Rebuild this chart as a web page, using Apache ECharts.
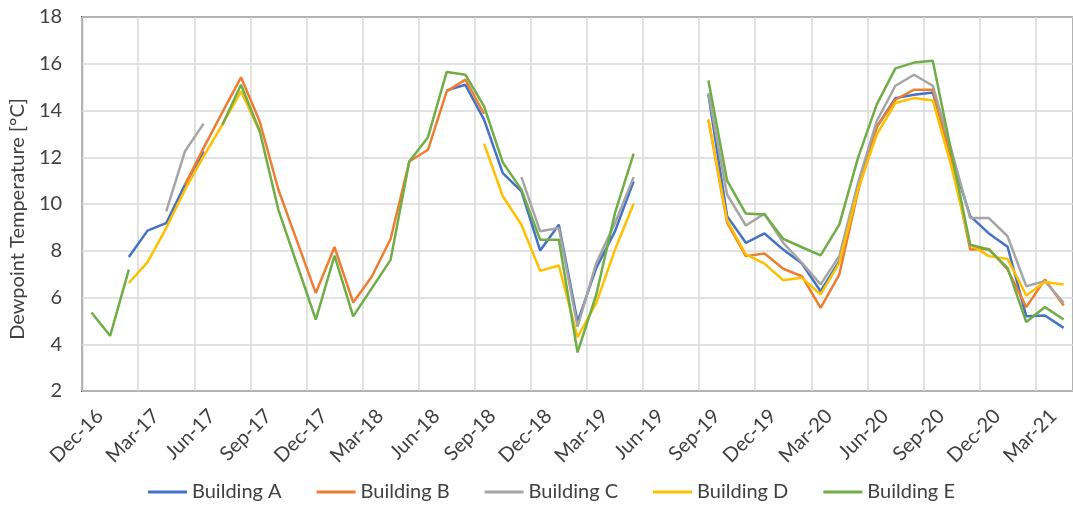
<!DOCTYPE html>
<html>
<head>
<meta charset="utf-8">
<script src="https://cdn.jsdelivr.net/npm/echarts@6/dist/echarts.min.js"></script>
<style>
  html, body { margin: 0; padding: 0; background: #ffffff; }
  #chart { width: 1073px; height: 506px; }
</style>
</head>
<body>
<div id="chart"></div>
<script>
// Monthly categories (Dec-16 .. Apr-21); each value sits in the middle of its month
const months = ['Dec-16','Jan-17','Feb-17','Mar-17','Apr-17','May-17','Jun-17','Jul-17','Aug-17','Sep-17','Oct-17','Nov-17',
  'Dec-17','Jan-18','Feb-18','Mar-18','Apr-18','May-18','Jun-18','Jul-18','Aug-18','Sep-18','Oct-18','Nov-18',
  'Dec-18','Jan-19','Feb-19','Mar-19','Apr-19','May-19','Jun-19','Jul-19','Aug-19','Sep-19','Oct-19','Nov-19',
  'Dec-19','Jan-20','Feb-20','Mar-20','Apr-20','May-20','Jun-20','Jul-20','Aug-20','Sep-20','Oct-20','Nov-20',
  'Dec-20','Jan-21','Feb-21','Mar-21','Apr-21'];

const xTickLabels = ['Dec-16','Mar-17','Jun-17','Sep-17','Dec-17','Mar-18','Jun-18','Sep-18','Dec-18',
  'Mar-19','Jun-19','Sep-19','Dec-19','Mar-20','Jun-20','Sep-20','Dec-20','Mar-21'];

const seriesNames = ['Building A','Building B','Building C','Building D','Building E'];

const buildingA = [null,null,7.73,8.86,9.18,10.82,12.25,null,null,null,null,null,
  null,null,null,null,null,null,null,14.86,15.1,13.61,11.32,10.54,
  8.01,9.11,4.96,7.26,8.83,10.97,null,null,null,14.68,9.48,8.34,
  8.74,8.05,7.45,6.27,7.55,10.76,13.3,14.53,14.67,14.77,12.0,9.48,
  8.74,8.17,5.2,5.23,4.7];

const buildingB = [null,null,null,null,null,10.82,12.4,13.92,15.42,13.53,10.61,8.4,
  6.19,8.16,5.79,6.9,8.5,11.82,12.32,14.82,15.32,13.86,null,null,
  null,null,null,null,null,null,null,null,null,13.6,9.2,7.77,
  7.88,7.23,6.91,5.56,6.98,10.54,13.29,14.46,14.89,14.89,11.9,8.05,
  8.08,7.2,5.59,6.77,5.66];

const buildingC = [null,null,null,null,9.68,12.25,13.44,null,null,null,null,null,
  null,null,null,null,null,null,null,null,null,null,null,11.15,
  8.83,8.97,4.75,7.47,9.18,11.15,null,null,null,14.75,10.4,9.08,
  9.59,8.34,7.48,6.56,7.77,10.9,13.54,15.06,15.53,15.06,12.3,9.4,
  9.4,8.62,6.48,6.7,5.77];

const buildingD = [null,null,6.62,7.51,8.97,10.61,12.04,13.39,14.82,13.1,null,null,
  null,null,null,null,null,null,null,null,null,12.58,10.33,9.11,
  7.14,7.37,4.3,5.76,8.04,10.01,null,null,null,13.63,9.3,7.84,
  7.45,6.74,6.84,6.13,7.48,10.62,12.97,14.32,14.53,14.43,11.6,8.26,
  7.77,7.65,6.09,6.66,6.56];

const buildingE = [5.36,4.36,7.19,null,null,null,null,13.39,15.1,13.11,9.75,7.4,
  5.05,7.79,5.19,6.4,7.61,11.82,12.86,15.65,15.53,14.18,11.78,10.61,
  8.47,8.47,3.65,6.12,9.61,12.15,null,null,null,15.28,11.0,9.59,
  9.55,8.51,8.15,7.8,9.12,11.97,14.25,15.8,16.05,16.13,12.2,8.26,
  8.05,7.27,4.95,5.59,5.06];

const seriesValues = [buildingA, buildingB, buildingC, buildingD, buildingE];
const colors = ['#4472C4','#ED7D31','#A5A5A5','#FFC000','#70AD47'];

const FONT = 'Lato';
const TXT = '#404040';

const chart = echarts.init(document.getElementById('chart'), null, { renderer: 'canvas' });

chart.setOption({
  animation: false,
  backgroundColor: '#ffffff',
  color: colors,
  textStyle: { fontFamily: FONT },
  grid: {
    show: true,
    left: 82, top: 17, width: 999, height: 374,
    borderColor: '#3f3f3f', borderWidth: 2,
    backgroundColor: 'transparent'
  },
  xAxis: {
    type: 'value',
    min: 0, max: 53, interval: 3,
    axisLine: { show: false },
    axisTick: { show: false },
    splitLine: { show: true, lineStyle: { color: '#D9D9D9', width: 1.5 } },
    axisLabel: {
      rotate: 45, margin: 4,
      verticalAlign: 'top', padding: [15, 0, 0, 0],
      fontFamily: FONT, fontSize: 20, color: TXT,
      showMaxLabel: false,
      formatter: function (v) {
        const k = v / 3;
        return Number.isInteger(k) && k < xTickLabels.length ? xTickLabels[k] : '';
      }
    }
  },
  yAxis: {
    type: 'value',
    min: 2, max: 18, interval: 2,
    name: 'Dewpoint Temperature [°C]',
    nameLocation: 'middle', nameGap: 45,
    nameTextStyle: { fontFamily: FONT, fontSize: 20, color: TXT, padding: [0, 30, 0, 0] },
    axisLine: { show: false },
    axisTick: { show: false },
    splitLine: { show: true, lineStyle: { color: '#D9D9D9', width: 1.5 } },
    axisLabel: { margin: 20, fontFamily: FONT, fontSize: 20, color: TXT }
  },
  legend: {
    show: true,
    left: 143, top: 477,
    icon: 'rect',
    itemWidth: 39, itemHeight: 3, itemGap: 35,
    textStyle: { fontFamily: FONT, fontSize: 20, color: TXT },
    data: seriesNames
  },
  series: seriesNames.map(function (name, s) {
    return {
      name: name,
      type: 'line',
      symbol: 'none',
      connectNulls: false,
      lineStyle: { width: 2.5, color: colors[s] },
      itemStyle: { color: colors[s] },
      data: seriesValues[s].map(function (v, i) { return [i + 0.5, v]; })
    };
  })
});
</script>
</body>
</html>
